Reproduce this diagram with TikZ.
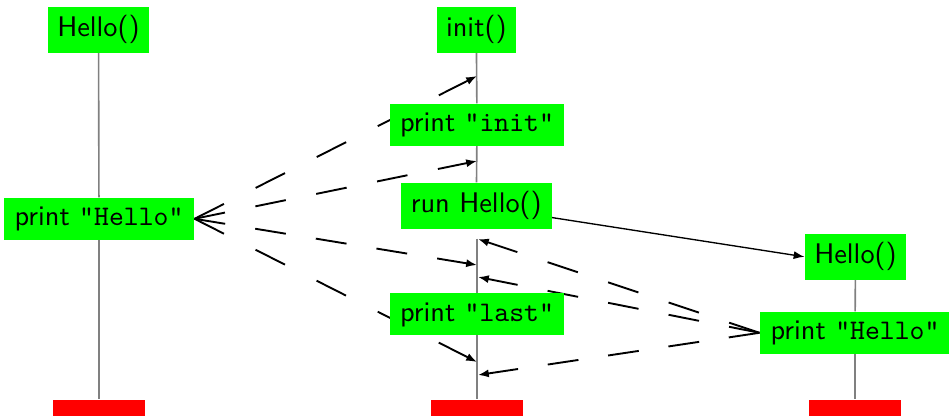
\documentclass[tikz,border=0pt]{standalone}
\usepackage{fontspec}
\usetikzlibrary{arrows.meta}
\pgfdeclarelayer{background}
\pgfsetlayers{background,main}
\definecolor{boxgreen}{RGB}{0,255,0}
\definecolor{endred}{RGB}{255,0,0}
\begin{document}
\begin{tikzpicture}[x=0.37037pt,y=-0.37037pt,
  act/.style={fill=boxgreen, font=\fontsize{10.5}{12.6}\selectfont\sffamily, inner sep=0pt},
  pact/.style={act, text height=7.9pt, text depth=2.6pt, minimum height=16.93pt},
  prt/.style={act, text height=7.3pt, text depth=2.05pt, minimum height=15.44pt},
  endbox/.style={fill=endred, minimum width=34.07pt, minimum height=5.93pt, inner sep=0pt},
  life/.style={draw=gray, line width=0.6pt},
  ret/.style 2 args={draw=black, line width=0.7pt, dash pattern=on #1pt off #2pt, -{Latex[length=4pt,width=3pt]}},
  callarr/.style={draw=black, line width=0.5pt, -{Latex[length=4pt,width=3pt]}}]
\useasboundingbox (0,0) rectangle (949,416);
% left object
\node[pact, minimum width=37.41pt] (helloL) at (98.5,29.8) {Hello()};
\node[prt, minimum width=70.37pt] (phL) at (99,218.8) {print \texttt{"Hello"}};
\node[endbox] (endL) at (99,408) {};
% middle object
\node[pact, minimum width=29.26pt] (init) at (476.3,29.8) {init()};
\node[prt, minimum width=64.44pt] (pinit) at (477,124.8) {print \texttt{"init"}};
\node[pact, minimum width=55.93pt] (run) at (476.3,205.8) {run Hello()};
\node[prt, minimum width=64.44pt] (plast) at (477,314) {print \texttt{"last"}};
\node[endbox] (endM) at (477,408) {};
% right object
\node[pact, minimum width=37.41pt] (helloR) at (855.5,256.8) {Hello()};
\node[prt, minimum width=70.37pt] (phR) at (855,332.8) {print \texttt{"Hello"}};
\node[endbox] (endR) at (855,408) {};
% points on middle lifeline
\coordinate (mL1) at (477,76);
\coordinate (mL2) at (477,161);
\coordinate (mL3) at (477,265);
\coordinate (mL4) at (477,362);
\coordinate (mR1) at (478,239);
\coordinate (mR2) at (478,277);
\coordinate (mR3) at (478,375);
\coordinate (mstart) at (477,238.5);
\begin{pgfonlayer}{background}
  % lifelines
  \draw[life] (helloL) -- (phL);
  \draw[life] (phL) -- (endL);
  \draw[life] (init) -- (pinit);
  \draw[life] (pinit) -- (run);
  \draw[life] (mstart) -- (plast);
  \draw[life] (plast) -- (endM);
  \draw[life] (helloR) -- (phR);
  \draw[life] (phR) -- (endR);
  % call
  \draw[callarr] (run.center) -- (helloR.west);
  % returns from left
  \draw[ret={12.2}{13.15}] (phL.east) -- (mL1);
  \draw[ret={11.5}{11.5}] (phL.east) -- (mL2);
  \draw[ret={11.5}{11.26}] (phL.east) -- (mL3);
  \draw[ret={12.2}{13.15}] (phL.east) -- (mL4);
  % returns from right
  \draw[ret={11.85}{11.78}] (phR.west) -- (mR1);
  \draw[ret={11.5}{11.33}] (phR.west) -- (mR2);
  \draw[ret={11.5}{11.1}] (phR.west) -- (mR3);
\end{pgfonlayer}
\end{tikzpicture}
\end{document}
